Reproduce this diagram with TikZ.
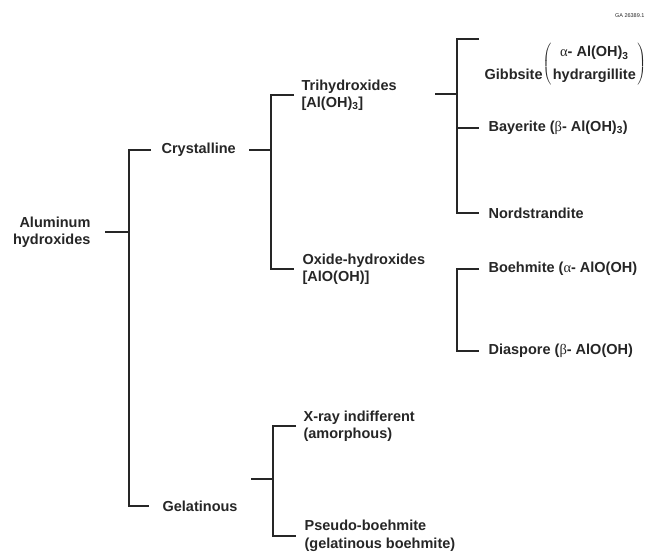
\documentclass[tikz,border=0pt]{standalone}
\usepackage{fontspec}
\setmainfont{Liberation Sans}
\newfontfamily\grk{Liberation Serif}
\newcommand{\galpha}{{\grk\mdseries α}}
\newcommand{\gbeta}{{\grk\mdseries β}}

\begin{document}
\begin{tikzpicture}[x=1pt,y=-1pt,line width=1.2pt,black!85,
                    lbl/.style={inner sep=0pt,anchor=west,align=left,
                                font=\fontsize{14.5}{17.5}\selectfont\bfseries}
                    ]
    \useasboundingbox (0,0) rectangle (648,552);
    \node[inner sep=0pt,anchor=east,font=\fontsize{5.5}{6}\selectfont] (ga) at (645,16) {GA 26389.1};
    \node[lbl,anchor=east,align=right] (alu) at (91,232) {Aluminum\\hydroxides};
    \node[lbl] (cryst)  at (161,150) {Crystalline};
    \node[lbl] (gel)    at (162,506) {Gelatinous};
    \node[lbl] (tri)    at (301,95)  {Trihydroxides\\{[}Al(OH)\textsubscript{3}{]}};
    \node[lbl] (oxi)    at (302,269) {Oxide-hydroxides\\{[}AlO(OH){]}};
    \node[lbl] (xray)   at (303,426) {X-ray indifferent\\(amorphous)};
    \node[lbl] (pseudo) at (304,536) {Pseudo-boehmite\\(gelatinous boehmite)};
    \node[lbl,anchor=base west] (gibb) at (484,79)
        {Gibbsite\raisebox{11.8pt}{$\renewcommand{\arraystretch}{1.26}\left(\begin{tabular}{@{\hspace{1.5pt}}c@{\hspace{1.5pt}}}\galpha- Al(OH)\textsubscript{3}\\hydrargillite\end{tabular}\right)$}};
    \node[lbl] (bay)    at (488,128) {Bayerite (\gbeta- Al(OH)\textsubscript{3})};
    \node[lbl] (nord)   at (488,213) {Nordstrandite};
    \node[lbl] (boeh)   at (488,269) {Boehmite (\galpha- AlO(OH)};
    \node[lbl] (diasp)  at (488,351) {Diaspore (\gbeta- AlO(OH)};

    \coordinate (j1) at (129,232);
    \coordinate (j2) at (271,150);
    \coordinate (j3) at (457,94);
    \coordinate (j4) at (273,479);
    \coordinate (j5) at (457,310);
    \coordinate (t3) at (435,94);
    \coordinate (t4) at (251,479);
    \coordinate (g1) at (479,39);

    \draw ([xshift=14pt]alu.east) -- (j1);
    \draw ([xshift=-10pt]cryst.west) -| (j1) |- ([xshift=-13pt]gel.west);
    \draw ([xshift=13pt]cryst.east) -- (j2);
    \draw ([xshift=-7pt]tri.west) -| (j2) |- ([xshift=-8pt]oxi.west);
    \draw (t3) -- (j3);
    \draw (g1) -| (j3) |- ([xshift=-9pt]nord.west);
    \draw (j3 |- bay.west) -- ([xshift=-9pt]bay.west);
    \draw ([xshift=-9pt]boeh.west) -| (j5) |- ([xshift=-9pt]diasp.west);
    \draw (t4) -- (j4);
    \draw ([xshift=-7pt]xray.west) -| (j4) |- ([xshift=-8pt]pseudo.west);
\end{tikzpicture}
\end{document}
